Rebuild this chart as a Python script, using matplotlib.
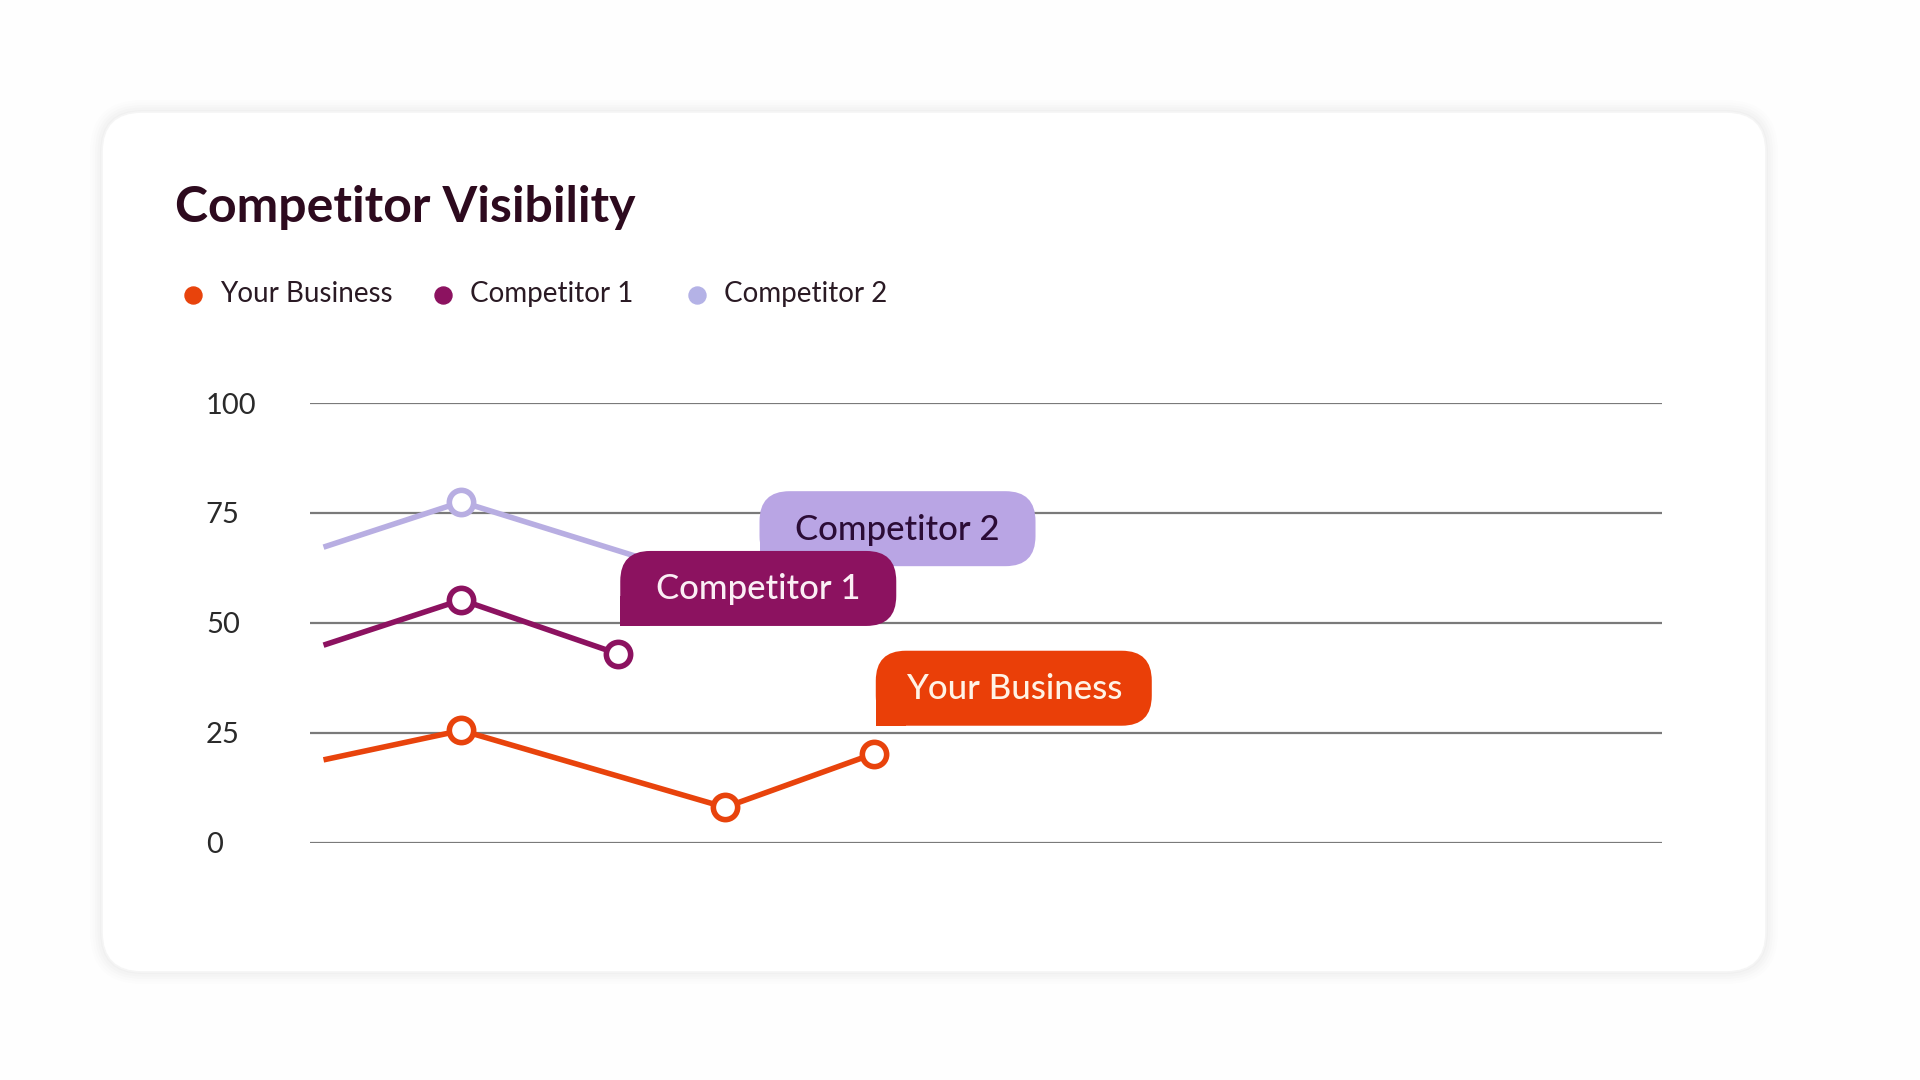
import matplotlib.pyplot as plt
from matplotlib.patches import FancyBboxPatch, Rectangle

plt.rcParams['font.family'] = ['Lato', 'DejaVu Sans']

# Data (x in % of plot width, y = visibility score)
series_names = ['Your Business', 'Competitor 1', 'Competitor 2']
colors = ['#E8430C', '#8C1260', '#B8AEE2']
label_colors = ['#EA3F08', '#8C1260', '#B9A5E4']
label_text_colors = ['#FFF3E6', '#FBEFF5', '#2B0C36']

yb_x = [1.0, 11.2, 30.7, 41.7]
yb_y = [18.8, 25.5, 8.0, 20.2]
c1_x = [1.0, 11.2, 22.8]
c1_y = [44.9, 55.2, 42.9]
c2_x = [1.0, 11.2, 33.1]
c2_y = [67.2, 77.5, 56.5]

yticks = [0, 25, 50, 75, 100]

W, H = 1920, 1080
fig = plt.figure(figsize=(W / 100, H / 100), dpi=100)
fig.patch.set_facecolor('#fefefe')

# background layer in pixel units (card + shadow)
bg = fig.add_axes([0, 0, 1, 1], zorder=0)
bg.set_xlim(0, W)
bg.set_ylim(0, H)
bg.axis('off')

cx0, cy0, cx1, cy1 = 102, 1080 - 972, 1766, 1080 - 112
for i, a in enumerate([0.006, 0.008, 0.010, 0.012, 0.014]):
    grow = 12 - i * 2.5
    bg.add_patch(FancyBboxPatch((cx0 - grow, cy0 - grow), cx1 - cx0 + 2 * grow, cy1 - cy0 + 2 * grow,
                                boxstyle='round,pad=0,rounding_size=%d' % (40 + grow),
                                fc='#000000', ec='none', alpha=a))
bg.add_patch(FancyBboxPatch((cx0, cy0), cx1 - cx0, cy1 - cy0,
                            boxstyle='round,pad=0,rounding_size=40',
                            fc='#ffffff', ec='#f5f5f5', lw=1.2))

# title and legend
bg.text(175, 1080 - 222, 'Competitor Visibility', fontsize=36, fontweight='bold',
        color='#2D0A1E', ha='left', va='baseline')
leg_x = [193, 443, 697]
leg_dot = ['#E8430C', '#8C1260', '#B4B2E6']
for lx, name, c in zip(leg_x, series_names, leg_dot):
    bg.scatter([lx], [1080 - 295], s=150, color=c, zorder=3)
    bg.text(lx + 27, 1080 - 294, name, fontsize=20, color='#2A1A24', ha='left', va='center')

# main plot
left, right = 310 / W, 1662 / W
bottom, top = 1 - 842.5 / H, 1 - 403 / H
ax = fig.add_axes([left, bottom, right - left, top - bottom], zorder=1)
ax.patch.set_alpha(0)
ax.set_xlim(0, 100)
ax.set_ylim(0, 100)
for s in ax.spines.values():
    s.set_visible(False)
ax.set_xticks([])
ax.set_yticks(yticks)
ax.set_yticklabels([str(t) for t in yticks], ha='left', fontsize=21, color='#2A2A2A')
ax.tick_params(axis='y', length=0, pad=75)
ax.grid(axis='y', color='#7a7a7a', lw=1.6)
ax.set_axisbelow(True)

all_x = [yb_x, c1_x, c2_x]
all_y = [yb_y, c1_y, c2_y]
for xs, ys, c, z in zip(all_x, all_y, colors, [5, 4, 3]):
    ax.plot(xs, ys, color=c, lw=4, solid_capstyle='butt', zorder=z, clip_on=False)
    ax.plot(xs[1:], ys[1:], ls='none', marker='o', ms=17.5, mfc='white', mec=c, mew=4,
            zorder=z, clip_on=False)

# end-of-line labels, anchored to the last point of each series
ov = fig.add_axes([0, 0, 1, 1], zorder=2)
ov.set_xlim(0, W)
ov.set_ylim(0, H)
ov.axis('off')
lab_w, lab_h, rad = 276, 75, 30
order = [2, 1, 0]  # competitor 2 first (bottom), your business last
for k, i in enumerate(order):
    px, py = ax.transData.transform((all_x[i][-1], all_y[i][-1]))
    bx, by = px + 2, py + 28
    ov.add_patch(FancyBboxPatch((bx, by), lab_w, lab_h,
                                boxstyle='round,pad=0,rounding_size=%d' % rad,
                                fc=label_colors[i], ec='none', zorder=10 + k))
    ov.add_patch(Rectangle((bx, by), rad, rad, fc=label_colors[i], ec='none', zorder=10 + k))
    ov.text(bx + lab_w / 2, by + lab_h / 2 - 1, series_names[i], fontsize=25, fontweight='medium',
            color=label_text_colors[i], ha='center', va='center', zorder=20 + k)

fig.savefig('out.png', dpi=100, facecolor=fig.get_facecolor())
